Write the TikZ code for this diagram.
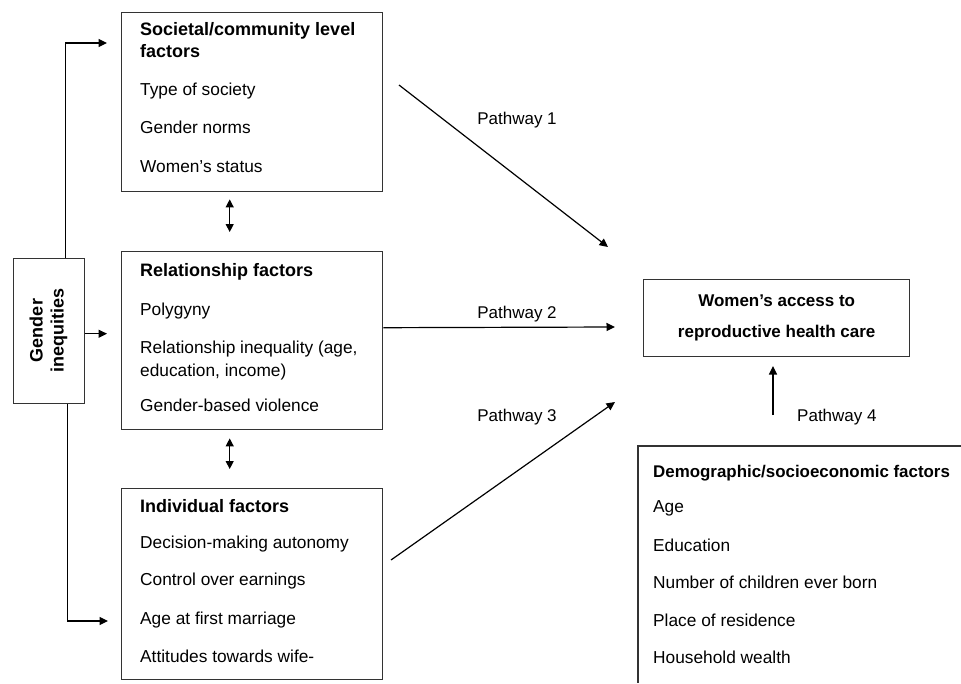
\documentclass[tikz,border=0pt]{standalone}
\usepackage{fontspec}
\setmainfont{Liberation Sans}
\usetikzlibrary{arrows.meta}
\definecolor{boxgray}{HTML}{333333}
\begin{document}
\begin{tikzpicture}[x=1pt,y=-1pt,
  box/.style={draw=boxgray, line width=1.4pt, anchor=north west, inner sep=0pt},
  txt/.style={anchor=west, inner sep=0pt, text height=12.2pt, text depth=3.6pt, font=\fontsize{17.3}{20}\selectfont},
  btxt/.style={txt, font=\fontsize{18}{20}\selectfont\bfseries},
  lbl/.style={inner sep=0pt, font=\fontsize{17}{20}\selectfont},
  arr/.style={line width=1.2pt, -{Triangle[length=8.5pt,width=8pt]}},
  darr/.style={line width=1.2pt, {Triangle[length=8pt,width=8pt]}-{Triangle[length=8pt,width=8pt]}}]
\useasboundingbox (0,0) rectangle (961,683);
% boxes
\node[box, minimum width=261pt, minimum height=179pt] (soc) at (121,12) {};
\node[box, minimum width=261pt, minimum height=178pt] (rel) at (121,251) {};
\node[box, minimum width=261pt, minimum height=191pt] (ind) at (121,488) {};
\node[box, minimum width=71pt, minimum height=145pt] (gen) at (13,258) {};
\node[rotate=90, align=center, inner sep=0pt, font=\fontsize{18}{21}\selectfont\bfseries] (gentxt) at (48.5,330.5) {Gender\\inequities};
\node[box, minimum width=266pt, minimum height=77pt, align=center, font=\fontsize{17}{31}\selectfont\bfseries] (wom) at (643,279) {Women’s access to\\reproductive health care};
\draw[draw=boxgray, line width=1.4pt] (961,446) -| (638,683);
\coordinate (demo) at (638,446);
% text: societal
\node[btxt] (s0) at (140,31) {Societal/community level};
\node[btxt] (s1) at (140,53) {factors};
\node[txt] (s2) at (140,91) {Type of society};
\node[txt] (s3) at (140,129) {Gender norms};
\node[txt] (s4) at (140,168) {Women’s status};
% relationship
\node[btxt] (r0) at (140,272) {Relationship factors};
\node[txt] (r1) at (140,311) {Polygyny};
\node[txt] (r2) at (140,349) {Relationship inequality (age,};
\node[txt] (r3) at (140,372) {education, income)};
\node[txt] (r4) at (140,407) {Gender-based violence};
% individual
\node[btxt] (i0) at (140,508) {Individual factors};
\node[txt] (i1) at (140,544) {Decision-making autonomy};
\node[txt] (i2) at (140,581) {Control over earnings};
\node[txt] (i3) at (140,620) {Age at first marriage};
\node[txt] (i4) at (140,658) {Attitudes towards wife-};
% demographic
\node[btxt, font=\fontsize{16.9}{20}\selectfont\bfseries] (d0) at (653,473) {Demographic/socioeconomic factors};
\node[txt] (d1) at (653,508) {Age};
\node[txt] (d2) at (653,547) {Education};
\node[txt] (d3) at (653,584) {Number of children ever born};
\node[txt] (d4) at (653,622) {Place of residence};
\node[txt] (d5) at (653,659) {Household wealth};
% gender connectors
\draw[arr, shorten >=14pt] ([xshift=16.5pt]gen.north) |- ([yshift=-31pt]soc.north west);
\draw[arr, shorten >=14pt] ([yshift=-2.5pt]gen.east) -- ([yshift=-2.5pt]gen.east -| rel.west);
\draw[arr, shorten >=13pt] ([xshift=18.5pt]gen.south) |- ([yshift=-133pt]ind.north west);
% double arrows
\draw[darr, shorten <=7pt, shorten >=19pt] ([xshift=-22.5pt]soc.south) -- ([xshift=-22.5pt]rel.north);
\draw[darr, shorten <=8pt, shorten >=19pt] ([xshift=-22.5pt]rel.south) -- ([xshift=-22.5pt]ind.north);
% pathways
\coordinate (p1s) at (399,85);
\coordinate (p1e) at (608,247);
\coordinate (p2e) at (615,327);
\coordinate (p3s) at (391,560);
\coordinate (p3e) at (615,402);
\coordinate (p4s) at (773,415);
\coordinate (p4e) at (773,366);
\draw[arr] (p1s) -- (p1e);
\draw[arr] ([yshift=13pt]rel.east) -- (p2e);
\draw[arr] (p3s) -- (p3e);
\draw[arr] (p4s) -- (p4e);
\node[lbl] (l1) at (517,120) {Pathway 1};
\node[lbl] (l2) at (517,314) {Pathway 2};
\node[lbl] (l3) at (517,417) {Pathway 3};
\node[lbl, anchor=west] (l4) at (797,417) {Pathway 4};
\end{tikzpicture}
\end{document}
